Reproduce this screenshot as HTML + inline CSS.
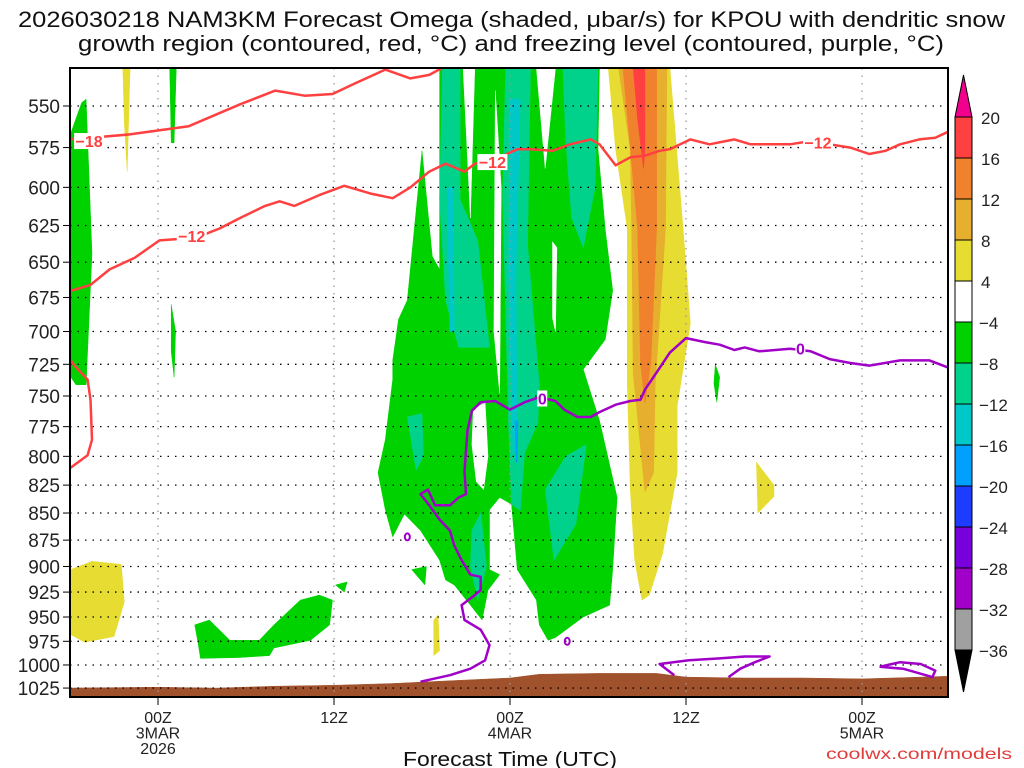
<!DOCTYPE html>
<html><head><meta charset="utf-8">
<style>
html,body{margin:0;padding:0;background:#fff;width:1024px;height:768px;overflow:hidden;}
svg text{font-family:"Liberation Sans",sans-serif;}
</style></head>
<body>
<svg id="chart" width="1024" height="768" viewBox="0 0 1024 768" xmlns="http://www.w3.org/2000/svg">
<text x="18" y="27" font-size="22" textLength="987" lengthAdjust="spacingAndGlyphs" fill="#111">2026030218 NAM3KM Forecast Omega (shaded, μbar/s) for KPOU with dendritic snow</text>
<text x="78" y="51" font-size="22" textLength="866" lengthAdjust="spacingAndGlyphs" fill="#111">growth region (contoured, red, °C) and freezing level (contoured, purple, °C)</text>
<defs><clipPath id="plotclip"><rect x="70" y="68" width="878" height="629"/></clipPath></defs>
<g id="shade" clip-path="url(#plotclip)"></g>
<g id="grid"></g>
<g id="contours" clip-path="url(#plotclip)"></g>
<rect x="70" y="68" width="878" height="629" fill="none" stroke="#000" stroke-width="2"/>
<g id="axes"></g>
<g id="cbar"></g>
<text x="403" y="766" font-size="20" textLength="214" lengthAdjust="spacingAndGlyphs" fill="#111">Forecast Time (UTC)</text>
<text x="826" y="759" font-size="16" textLength="186" lengthAdjust="spacingAndGlyphs" fill="#e03c3c">coolwx.com/models</text>
</svg>
<script>
// ---- data ----
const pressureTicks = [550,575,600,625,650,675,700,725,750,775,800,825,850,875,900,925,950,975,1000,1025];
const timeTickHours = [0,12,24,36,48];
const timeTickLabels = [["00Z","3MAR","2026"],["12Z"],["00Z","4MAR"],["12Z"],["00Z","5MAR"]];
const cbarLevels = [20,16,12,8,4,-4,-8,-12,-16,-20,-24,-28,-32,-36];
const cbarColors = ["#ff4040","#f0822d","#e6af2d","#e6dc32","#ffffff","#00d200","#00d28c","#00c8c8","#00a0ff","#1e3cff","#7800dc","#a000c8","#a0a0a0"];
const C = {g:"#00d200",t:"#00d28c",c:"#00c8c8",b:"#00a0ff",y:"#e6dc32",gd:"#e6af2d",o:"#f0822d",r:"#ff4040",w:"#ffffff",br:"#a0522d"};
const greenMain = [[19.2,528],[30.1,528],[30,576],[30.5,628],[31,670],[30.5,706],[29,729],[30.1,770],[31.3,836],[31,903],[30.8,938],[29,950],[27.1,971],[26.6,974],[26,958],[25.8,933],[24.5,903],[24.1,842],[23.3,836],[22.6,847],[22.6,903],[23.3,908],[22.5,923],[22.1,953],[21.3,938],[20.2,918],[19.6,913],[19.2,894],[17.9,866],[16.8,851],[16,872],[15.5,847],[15,814],[15.5,786],[16,737],[16,722],[16.4,691],[17,677],[18,577],[18.7,646],[19.2,655]];
const regions = [
 ["g", greenMain],
 ["g", [[17.3,903],[18.3,900],[18.2,918]]],
 ["w", [[20.8,528],[21.6,528],[21.3,620]]],
 ["w", [[25.8,528],[27.1,528],[26.4,588]]],
 ["w", [[23.0,541],[23.4,600],[23.3,748],[22.9,700]]],
 ["w", [[21.5,761],[22.3,755],[22.5,800],[22.2,829],[21.7,822],[21.4,790]]],
 ["w", [[26.9,636],[27.2,640],[27.1,700],[26.9,690]]],
 ["t", [[19.4,528],[20.6,528],[20.6,608],[21.8,635],[22.6,712],[20.5,712],[19.6,677],[19.2,608]]],
 ["t", [[23.7,528],[25.4,528],[25.2,638],[26,741],[25.9,772],[25,797],[24.7,848],[24.1,842],[23.9,772],[23.5,606]]],
 ["c", [[24.0,546],[24.7,546],[24.4,660],[24.5,790],[24.2,800],[23.9,660]]],
 ["b", [[24.35,770],[24.55,770],[24.5,805],[24.4,805]]],
 ["t", [[27.6,528],[30,528],[29.8,600],[29,640],[28.2,620],[27.8,570]]],
 ["t", [[26.4,829],[27.8,800],[29.2,790],[28.5,860],[27,894]]],
 ["t", [[17,767],[18,764],[18.1,800],[17.6,812]]],
 ["t", [[21.4,866],[22,850],[22.4,900],[21.8,933],[21.3,900]]],
 ["c", [[19.7,600],[20.1,600],[20.2,700],[19.9,700]]],
 ["y", [[30.7,528],[31.2,576],[32,627],[32,741],[32.2,829],[32.5,894],[33,933],[33.5,928],[34.4,888],[35.4,814],[35.4,758],[36.3,694],[35.8,627],[34.9,528]]],
 ["gd", [[31.4,528],[32.2,576],[32.3,627],[32.4,732],[33.2,831],[33.8,814],[33.9,741],[34.6,627],[34.7,528]]],
 ["o", [[31.7,528],[32.7,627],[32.9,724],[33.2,756],[33.6,724],[34,627],[34,528]]],
 ["r", [[32.4,528],[33.2,528],[33.2,576],[33.1,588],[32.7,558]]],
 ["g", [[-6.3,575],[-5.2,548],[-4.9,546],[-4.5,644],[-4.9,741],[-5.6,741],[-6.3,729]]],
 ["g", [[0.8,528],[1.25,528],[1.1,572],[0.9,572]]],
 ["y", [[-2.4,528],[-1.9,528],[-2.1,590],[-2.3,560]]],
 ["g", [[0.9,680],[1.2,700],[1.1,735],[0.9,715]]],
 ["y", [[-6.3,905],[-4.5,895],[-2.5,898],[-2.3,935],[-3,970],[-5,976],[-6.3,965]]],
 ["g", [[2.5,958],[3.5,953],[4.9,974],[6.9,974],[7.9,958],[9.7,933],[11,928],[11.9,933],[11.7,958],[10.4,974],[7.9,982],[7.6,990],[5.6,992],[2.9,993],[2.7,974]]],
 ["g", [[12.1,918],[12.9,915],[12.7,925]]],
 ["y", [[18.8,953],[19.1,948],[19.2,985],[18.8,990]]],
 ["y", [[40.8,805],[42,825],[42,835],[40.9,850]]],
 ["g", [[38,725],[38.3,735],[38.1,755],[37.9,740]]],
 ["br", [[-6.3,1025],[0,1024],[4,1025],[8,1023],[12,1022],[16,1020],[20,1017],[24,1014],[26,1010],[30,1009],[34,1009],[36,1013],[40,1014],[44,1014],[48,1015],[54.2,1012],[54.2,1040],[-6.3,1040]]]
];
const redLower = [[-6.2,671],[-4.6,666],[-3.3,655],[-1.6,647],[0.1,635],[1.5,634],[2.9,632],[4.2,627],[5.6,620],[7.3,612],[8.3,609],[9.3,612],[11,605],[12.7,599],[14.5,604],[16,607],[17.2,600],[18.5,590],[19.6,585],[20.9,590],[21.6,585],[22.6,583],[23.3,581],[24.5,576],[25.4,576],[26.9,577],[28.1,573],[29.5,570],[30.1,573],[31.2,586],[32.2,581],[33.2,580],[34.2,577],[34.9,576],[36.3,570],[37.6,573],[39.3,570],[40.4,573],[41.7,573],[43.1,573],[44.5,571],[45.8,573],[47.2,575],[48.5,579],[49.6,577],[50.6,573],[51.9,570],[53,569],[54.2,564]];
const redUpper = [[-6.2,570],[-4.6,569],[-2.0,567],[2.1,562],[5.6,549],[8,541],[10,544],[11.9,543],[13.4,537],[15.5,529],[17.2,534],[18.5,532],[19.6,527]];
const redLeft = [[-6.2,812],[-4.8,799],[-4.5,786],[-4.6,753],[-4.8,737],[-5.7,726],[-6.2,718]];
const purple0 = [[54.2,729],[52.6,722],[50.6,722],[48.5,726],[47.2,724],[45.8,721],[44.5,715],[43.1,713],[41,715],[40,712],[39.3,714],[38.3,710],[37.3,708],[36,705],[34.9,716],[33.9,733],[33.2,745],[32.9,753],[32.2,754],[31.2,757],[30.1,763],[29.5,767],[28.6,767],[27.7,761],[27.1,754],[26,751],[25,755],[24,761],[23,754],[22,755],[21.4,762],[21.1,778],[20.9,813],[21,833],[20.5,836],[19.9,843],[18.9,843],[18.4,829],[17.9,833],[18.5,843],[19.2,856],[19.9,866],[20.2,880],[20.7,894],[21.3,908],[22,910],[22,923],[21.6,928],[20.7,938],[20.9,953],[22,963],[22.6,979],[22.3,995],[21.3,1004],[19.9,1011],[17.9,1018]];
const purpleLoopA = [[35.2,1011],[34.2,999],[36.2,995],[38.3,993],[40,991],[41.7,991],[40.7,997],[39.7,1004],[38.9,1013]];
const purpleLoopB = [[49.2,1002],[50.6,997],[52,999],[53,1006],[52.8,1013],[50.8,1004],[49.2,1002]];
const purpleDots = [[17,872],[27.9,975]];
const contourLabels = [["-18",-4.7,571,"#ff4040"],["-12",2.3,632,"#ff4040"],["-12",22.8,584,"#ff4040"],["-12",45,572,"#ff4040"],["0",26.2,752,"#a000c8"],["0",43.8,713,"#a000c8"]];

const X0=158, PXH=176/12;
function xs(h){return X0+h*PXH;}
function ys(p){return 106+935*Math.log(p/550);}
const NS="http://www.w3.org/2000/svg";
function mk(tag,attrs,parent){const e=document.createElementNS(NS,tag);for(const k in attrs)e.setAttribute(k,attrs[k]);parent.appendChild(e);return e;}
const pts = arr => arr.map(d=>xs(d[0]).toFixed(1)+","+ys(d[1]).toFixed(1)).join(" ");

const shade=document.getElementById('shade');
regions.forEach((r,i)=>{
  const el=mk('polygon',{points:pts(r[1]),fill:C[r[0]],stroke:C[r[0]],'stroke-width':0.5},shade);
  
  
});

const grid=document.getElementById('grid'), axes=document.getElementById('axes');
pressureTicks.forEach(p=>{
  const y=ys(p);
  const l=mk('line',{x1:70,x2:948,y1:y,y2:y,stroke:'#000','stroke-width':1.3,'stroke-dasharray':'1.5 6'},grid);
  
  
  const t=mk('line',{x1:63,x2:70,y1:y,y2:y,stroke:'#000','stroke-width':1},axes);
  
  
  const tx=mk('text',{x:60,y:y+7,'font-size':19,'text-anchor':'end',fill:'#222'},axes);
  tx.textContent=p;
  
  
});
timeTickHours.forEach((h,i)=>{
  const x=xs(h);
  const l=mk('line',{x1:x,x2:x,y1:68,y2:697,stroke:'#999','stroke-width':1.3,'stroke-dasharray':'1.5 6'},grid);
  
  
  const t=mk('line',{x1:x,x2:x,y1:697,y2:705,stroke:'#000','stroke-width':1},axes);
  
  
  timeTickLabels[i].forEach((s,j)=>{
    const tx=mk('text',{x:x,y:723+j*15.5,'font-size':16,'text-anchor':'middle',fill:'#222'},axes);
    tx.textContent=s;
    
    
  });
});

const cont=document.getElementById('contours');
function line(arr,color,name){
  const el=mk('polyline',{points:pts(arr),fill:'none',stroke:color,'stroke-width':2.5,'stroke-linejoin':'round'},cont);
  
  
}
line(redLower,'#ff4040','dgz-contour-minus12');
line(redUpper,'#ff4040','dgz-contour-minus18');
line(redLeft,'#ff4040','dgz-contour-left');
line(purple0,'#a000c8','freezing-level-contour');
line(purpleLoopA,'#a000c8','freezing-level-loop');
line(purpleLoopB,'#a000c8','freezing-level-loop');
purpleDots.forEach(d=>{
  const e=mk('ellipse',{cx:xs(d[0]),cy:ys(d[1]),rx:2.5,ry:3.5,fill:'none',stroke:'#a000c8','stroke-width':2},cont);
  
  
});
contourLabels.forEach(c=>{
  const x=xs(c[1]), y=ys(c[2]);
  const w=c[0].length*10;
  const bg=mk('rect',{x:x-w/2,y:y-8,width:w,height:16,fill:'#fff'},cont);
  
  
  const t=mk('text',{x:x,y:y+6,'font-size':16,'font-weight':'bold','text-anchor':'middle',fill:c[3]},cont);
  t.textContent=c[0].replace('-','−');
  
  
});

const cb=document.getElementById('cbar');
const CBX=955, CBW=17, CBT=117, CBH=41;
const up=mk('polygon',{points:`${CBX},${CBT} ${CBX+CBW},${CBT} ${CBX+CBW/2},${CBT-42}`,fill:'#f0008c',stroke:'#000','stroke-width':1},cb);


cbarColors.forEach((col,i)=>{
  const r=mk('rect',{x:CBX,y:CBT+i*CBH,width:CBW,height:CBH,fill:col,stroke:'#000','stroke-width':1},cb);
  
  
});
const yb=CBT+cbarColors.length*CBH;
const dn=mk('polygon',{points:`${CBX},${yb} ${CBX+CBW},${yb} ${CBX+CBW/2},${yb+42}`,fill:'#000',stroke:'#000','stroke-width':1},cb);


cbarLevels.forEach((v,i)=>{
  const t=mk('text',{x:v<0?979:981,y:CBT+i*CBH+7,'font-size':17,fill:'#222'},cb);
  t.textContent=v<0?('−'+Math.abs(v)):String(v);
  
  
});
</script>
</body></html>
